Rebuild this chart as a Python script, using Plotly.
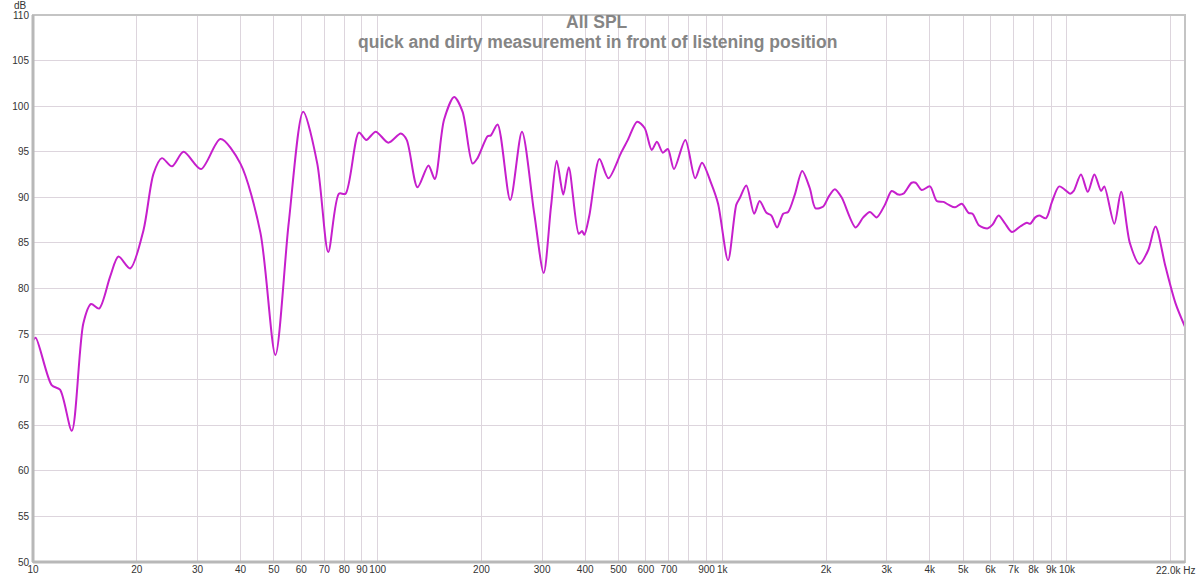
import plotly.graph_objects as go

# frequency (Hz) and level (dB)
freq_hz = [10.0, 10.18, 11.33, 11.98, 12.96, 14.0, 14.74, 15.55, 16.74, 17.7,
           19.14, 20.92, 22.37, 23.66, 25.3, 27.35, 30.72, 34.98, 39.98, 45.7,
           50.5, 55.2, 60.8, 66.8, 71.9, 77.2, 80.7, 88.2, 92.7, 98.7,
           107.4, 116.7, 121.4, 130.5, 140.4, 146.5, 155.8, 166.7, 176.3, 188.5,
           194.9, 208.4, 213.1, 222.8, 242.5, 262.2, 284.7, 303.2, 318.4, 330.7,
           345.6, 358.4, 383.2, 391.7, 397.8, 411.3, 439.9, 467.2, 508.7, 532,
           566, 595, 624, 646, 672, 695, 724, 781, 834, 873,
           929, 972, 1039, 1098, 1123, 1174, 1237, 1283, 1343, 1388,
           1442, 1502, 1552, 1623, 1705, 1794, 1864, 1963, 2037, 2121,
           2218, 2436, 2564, 2680, 2804, 2964, 3100, 3242, 3352, 3543,
           3639, 3788, 4004, 4188, 4380, 4529, 4734, 4952, 5179, 5320,
           5561, 5894, 6081, 6331, 6591, 6920, 7315, 7651, 7822, 8088,
           8308, 8690, 9045, 9498, 10220, 10460, 10980, 11490, 12010, 12560,
           12830, 13720, 14360, 15220, 16230, 17200, 18060, 19310, 20640, 22000]

spl_db = [74.3, 74.6, 69.4, 68.9, 64.4, 76.2, 78.3, 77.8, 81.3, 83.5,
          82.2, 86.4, 92.6, 94.3, 93.4, 95.0, 93.1, 96.4, 93.7, 86.1,
          72.7, 87.2, 99.4, 93.7, 84.0, 90.4, 90.4, 97.1, 96.3, 97.2,
          96.0, 97.0, 96.3, 91.1, 93.5, 92.0, 98.5, 101.0, 99.4, 93.7,
          94.3, 96.7, 96.8, 98.0, 89.7, 97.2, 88.2, 81.7, 89.0, 94.0,
          90.3, 93.3, 86.0, 86.3, 85.9, 88.0, 94.2, 92.1, 94.9, 96.3,
          98.3, 97.6, 95.2, 96.1, 94.9, 95.3, 93.1, 96.3, 92.1, 93.8,
          91.5, 89.3, 83.1, 89.2, 89.9, 91.3, 88.2, 89.6, 88.3, 88.0,
          86.7, 88.2, 88.4, 90.3, 92.9, 91.0, 88.8, 89.0, 90.1, 90.9,
          90.0, 86.7, 87.8, 88.4, 87.8, 89.2, 90.7, 90.3, 90.4, 91.6,
          91.6, 90.8, 91.2, 89.6, 89.5, 89.2, 88.9, 89.3, 88.3, 88.2,
          86.9, 86.6, 87.0, 88.0, 87.2, 86.2, 86.8, 87.2, 87.1, 87.8,
          88.0, 87.7, 89.5, 91.2, 90.4, 90.7, 92.5, 90.6, 92.5, 90.7,
          91.2, 87.1, 90.6, 85.0, 82.7, 84.2, 86.8, 82.4, 78.4, 75.8]

x_ticks = [10, 20, 30, 40, 50, 60, 70, 80, 90, 100,
           200, 300, 400, 500, 600, 700, 800, 900, 1000,
           2000, 3000, 4000, 5000, 6000, 7000, 8000, 9000, 10000, 20000]
x_labels = ['10', '20', '30', '40', '50', '60', '70', '80', '90', '100',
            '200', '300', '400', '500', '600', '700', '', '900', '1k',
            '2k', '3k', '4k', '5k', '6k', '7k', '8k', '9k', '10k', '']
y_ticks = list(range(50, 111, 5))

grid_col = '#ddd5dd'
frame_col = '#c4c4c4'
title_font = dict(family='Liberation Sans, Arial', size=17.5, color='#858585', weight='bold')

fig = go.Figure()
fig.add_trace(go.Scatter(
    x=freq_hz, y=spl_db, mode='lines',
    line=dict(color='#c61fcc', width=2, shape='spline', smoothing=0.8),
    hovertemplate='%{x:.0f} Hz<br>%{y:.1f} dB<extra></extra>',
))

fig.update_layout(
    width=1200, height=579,
    margin=dict(l=33, r=15, t=15, b=17),
    paper_bgcolor='white', plot_bgcolor='white',
    showlegend=False,
    font=dict(family='Liberation Sans, Arial', size=10, color='#333333'),
)

fig.update_xaxes(
    type='log', range=[1, 4.3424],
    tickvals=x_ticks, ticktext=x_labels, tickangle=0,
    showgrid=True, gridcolor=grid_col, gridwidth=1,
    zeroline=False, ticks='', ticklabelstandoff=0,
    showline=False, automargin=False,
)
fig.update_yaxes(
    range=[50, 110], tickvals=y_ticks,
    showgrid=True, gridcolor=grid_col, gridwidth=1,
    zeroline=False, ticks='', ticklabelstandoff=3,
    showline=False, automargin=False,
)

# grey frame around the plot area, heavier on the left and bottom
fig.add_shape(type='rect', xref='paper', yref='paper', x0=0, x1=1, y0=0, y1=1,
              line=dict(color=frame_col, width=2), layer='above')
fig.add_shape(type='line', xref='paper', yref='paper', x0=0, x1=0, y0=0, y1=1,
              line=dict(color='#b8b8b8', width=3), layer='above')
fig.add_shape(type='line', xref='paper', yref='paper', x0=0, x1=1, y0=0, y1=0,
              line=dict(color='#b8b8b8', width=3), layer='above')

# title lines placed inside the plot area, as in the measurement software
fig.add_annotation(text='All SPL', xref='paper', yref='paper', x=0.49, y=1,
                   xanchor='center', yanchor='middle', yshift=-7,
                   showarrow=False, font=title_font)
fig.add_annotation(text='quick and dirty measurement in front of listening position',
                   xref='paper', yref='paper', x=0.49, y=1,
                   xanchor='center', yanchor='middle', yshift=-27,
                   showarrow=False, font=title_font)

fig.add_annotation(text='dB', xref='paper', yref='paper', x=0, y=1,
                   xanchor='right', yanchor='bottom', xshift=-4, yshift=2,
                   showarrow=False, font=dict(size=10, color='#333333'))
fig.add_annotation(text='22.0k Hz', xref='paper', yref='paper', x=1, y=0,
                   xanchor='right', yanchor='top', xshift=12, yshift=-1,
                   showarrow=False, font=dict(size=10, color='#333333'))

# drop the browser's default page margin so the figure sits at the corner
fig.write_html('out.html', config={'displayModeBar': False},
               post_script="document.body.style.margin='0';")
